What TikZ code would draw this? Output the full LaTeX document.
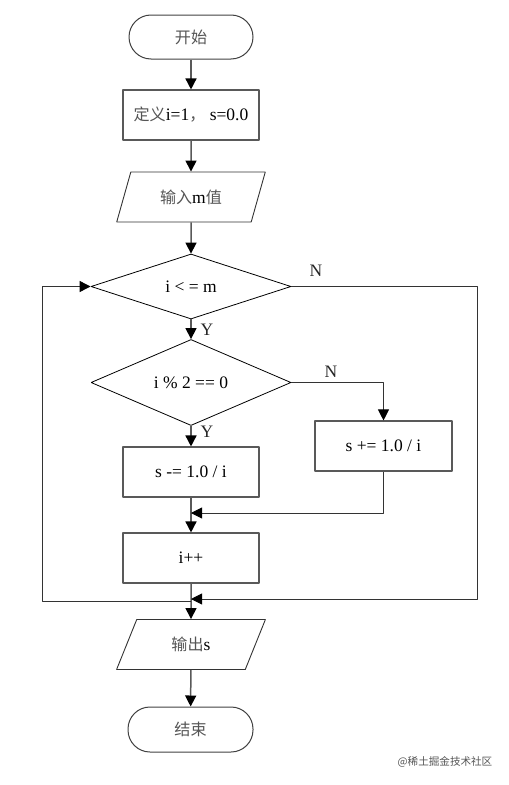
\documentclass[tikz,border=0pt]{standalone}
\usepackage{fontspec}
\setmainfont{Liberation Serif}
\newfontfamily\cjk[Scale=0.92,Color=555555]{Noto Sans CJK SC}
\usetikzlibrary{shapes.geometric,arrows.meta}
\begin{document}
\begin{tikzpicture}[>={Triangle[length=11bp,width=11bp,color=black]},line join=bevel,
  font=\fontsize{17.5bp}{20bp}\selectfont,
  term/.style={draw=black!75,line width=1bp,rounded corners=22bp,minimum width=124bp,minimum height=44bp},
  procbox/.style={draw=black!65,line width=1.1bp,minimum width=136bp,minimum height=50bp},
  iobox/.style={draw=black!80,line width=0.9bp,trapezium,trapezium left angle=64,trapezium right angle=116,trapezium stretches=true,minimum width=149bp,minimum height=50bp,inner sep=0pt},
  decide/.style={draw=black,line width=0.8bp,diamond,minimum width=200bp,minimum height=65bp,inner sep=0pt},
  flow/.style={draw=black!65,line width=1.5bp,->},
  wire/.style={draw=black!80,line width=0.9bp},
  lbl/.style={inner sep=0pt,text=black!85},
]
\useasboundingbox (0bp,0bp) rectangle (509bp,-785bp);
%%
\node (node_start) at (191bp,-37bp) [term] {\cjk 开始};
  \node (node_init) at (191bp,-115bp) [procbox] {{\cjk 定义}i=1{\cjk ，} s=0.0};
  \node (node_input) at (191bp,-197bp) [iobox] {{\cjk 输入}m{\cjk 值}};
  \node (node_cond) at (191bp,-286.5bp) [decide] {i < = m};
  \node (node_even) at (191bp,-382.5bp) [decide] {i \% 2 == 0};
  \node (node_sub) at (191bp,-472bp) [procbox] {s -= 1.0 / i};
  \node (node_add) at (383.5bp,-446bp) [procbox,minimum width=137bp] {s += 1.0 / i};
  \node (node_inc) at (191bp,-558bp) [procbox] {i++};
  \node (node_output) at (191bp,-644.5bp) [iobox] {{\cjk 输出}s};
  \node (node_end) at (190.5bp,-729.5bp) [term,minimum width=125bp,minimum height=45bp] {\cjk 结束};
%
\coordinate (join_add) at (191bp,-513bp);
  \coordinate (loop_out) at (191bp,-601bp);
  \coordinate (loop_left) at (42bp,-601bp);
  \coordinate (exit_right) at (477bp,-599bp);
  \coordinate (join_exit) at (191bp,-599bp);
%
\node (lbl_y1) at (207bp,-330bp) [lbl] {Y};
  \node (lbl_n1) at (316bp,-271bp) [lbl] {N};
  \node (lbl_y2) at (207bp,-432bp) [lbl] {Y};
  \node (lbl_n2) at (331bp,-372bp) [lbl] {N};
%
\draw [flow] (node_start) -- (node_init);
  \draw [flow] (node_init) -- (node_input);
  \draw [flow] (node_input) -- (node_cond);
  \draw [flow] (node_cond) -- (node_even);
  \draw [flow] (node_even) -- (node_sub);
  \draw [wire,->] (node_even.east) -| (node_add.north);
  \draw [flow] (node_sub) -- (node_inc);
  \draw [wire,->] (node_add.south) |- (join_add);
  \draw [flow] (node_inc) -- (node_output);
  \draw [wire,->] (loop_out) -- (loop_left) |- (node_cond.west);
  \draw [wire,->] (node_cond.east) -| (exit_right) -- (join_exit);
  \draw [flow] (node_output) -- (node_end);
%
\node (node_mark) at (445bp,-762bp) [font=\fontsize{11.5bp}{13bp}\selectfont] {\cjk\color{black!40}@稀土掘金技术社区};
%
\end{tikzpicture}
\end{document}
